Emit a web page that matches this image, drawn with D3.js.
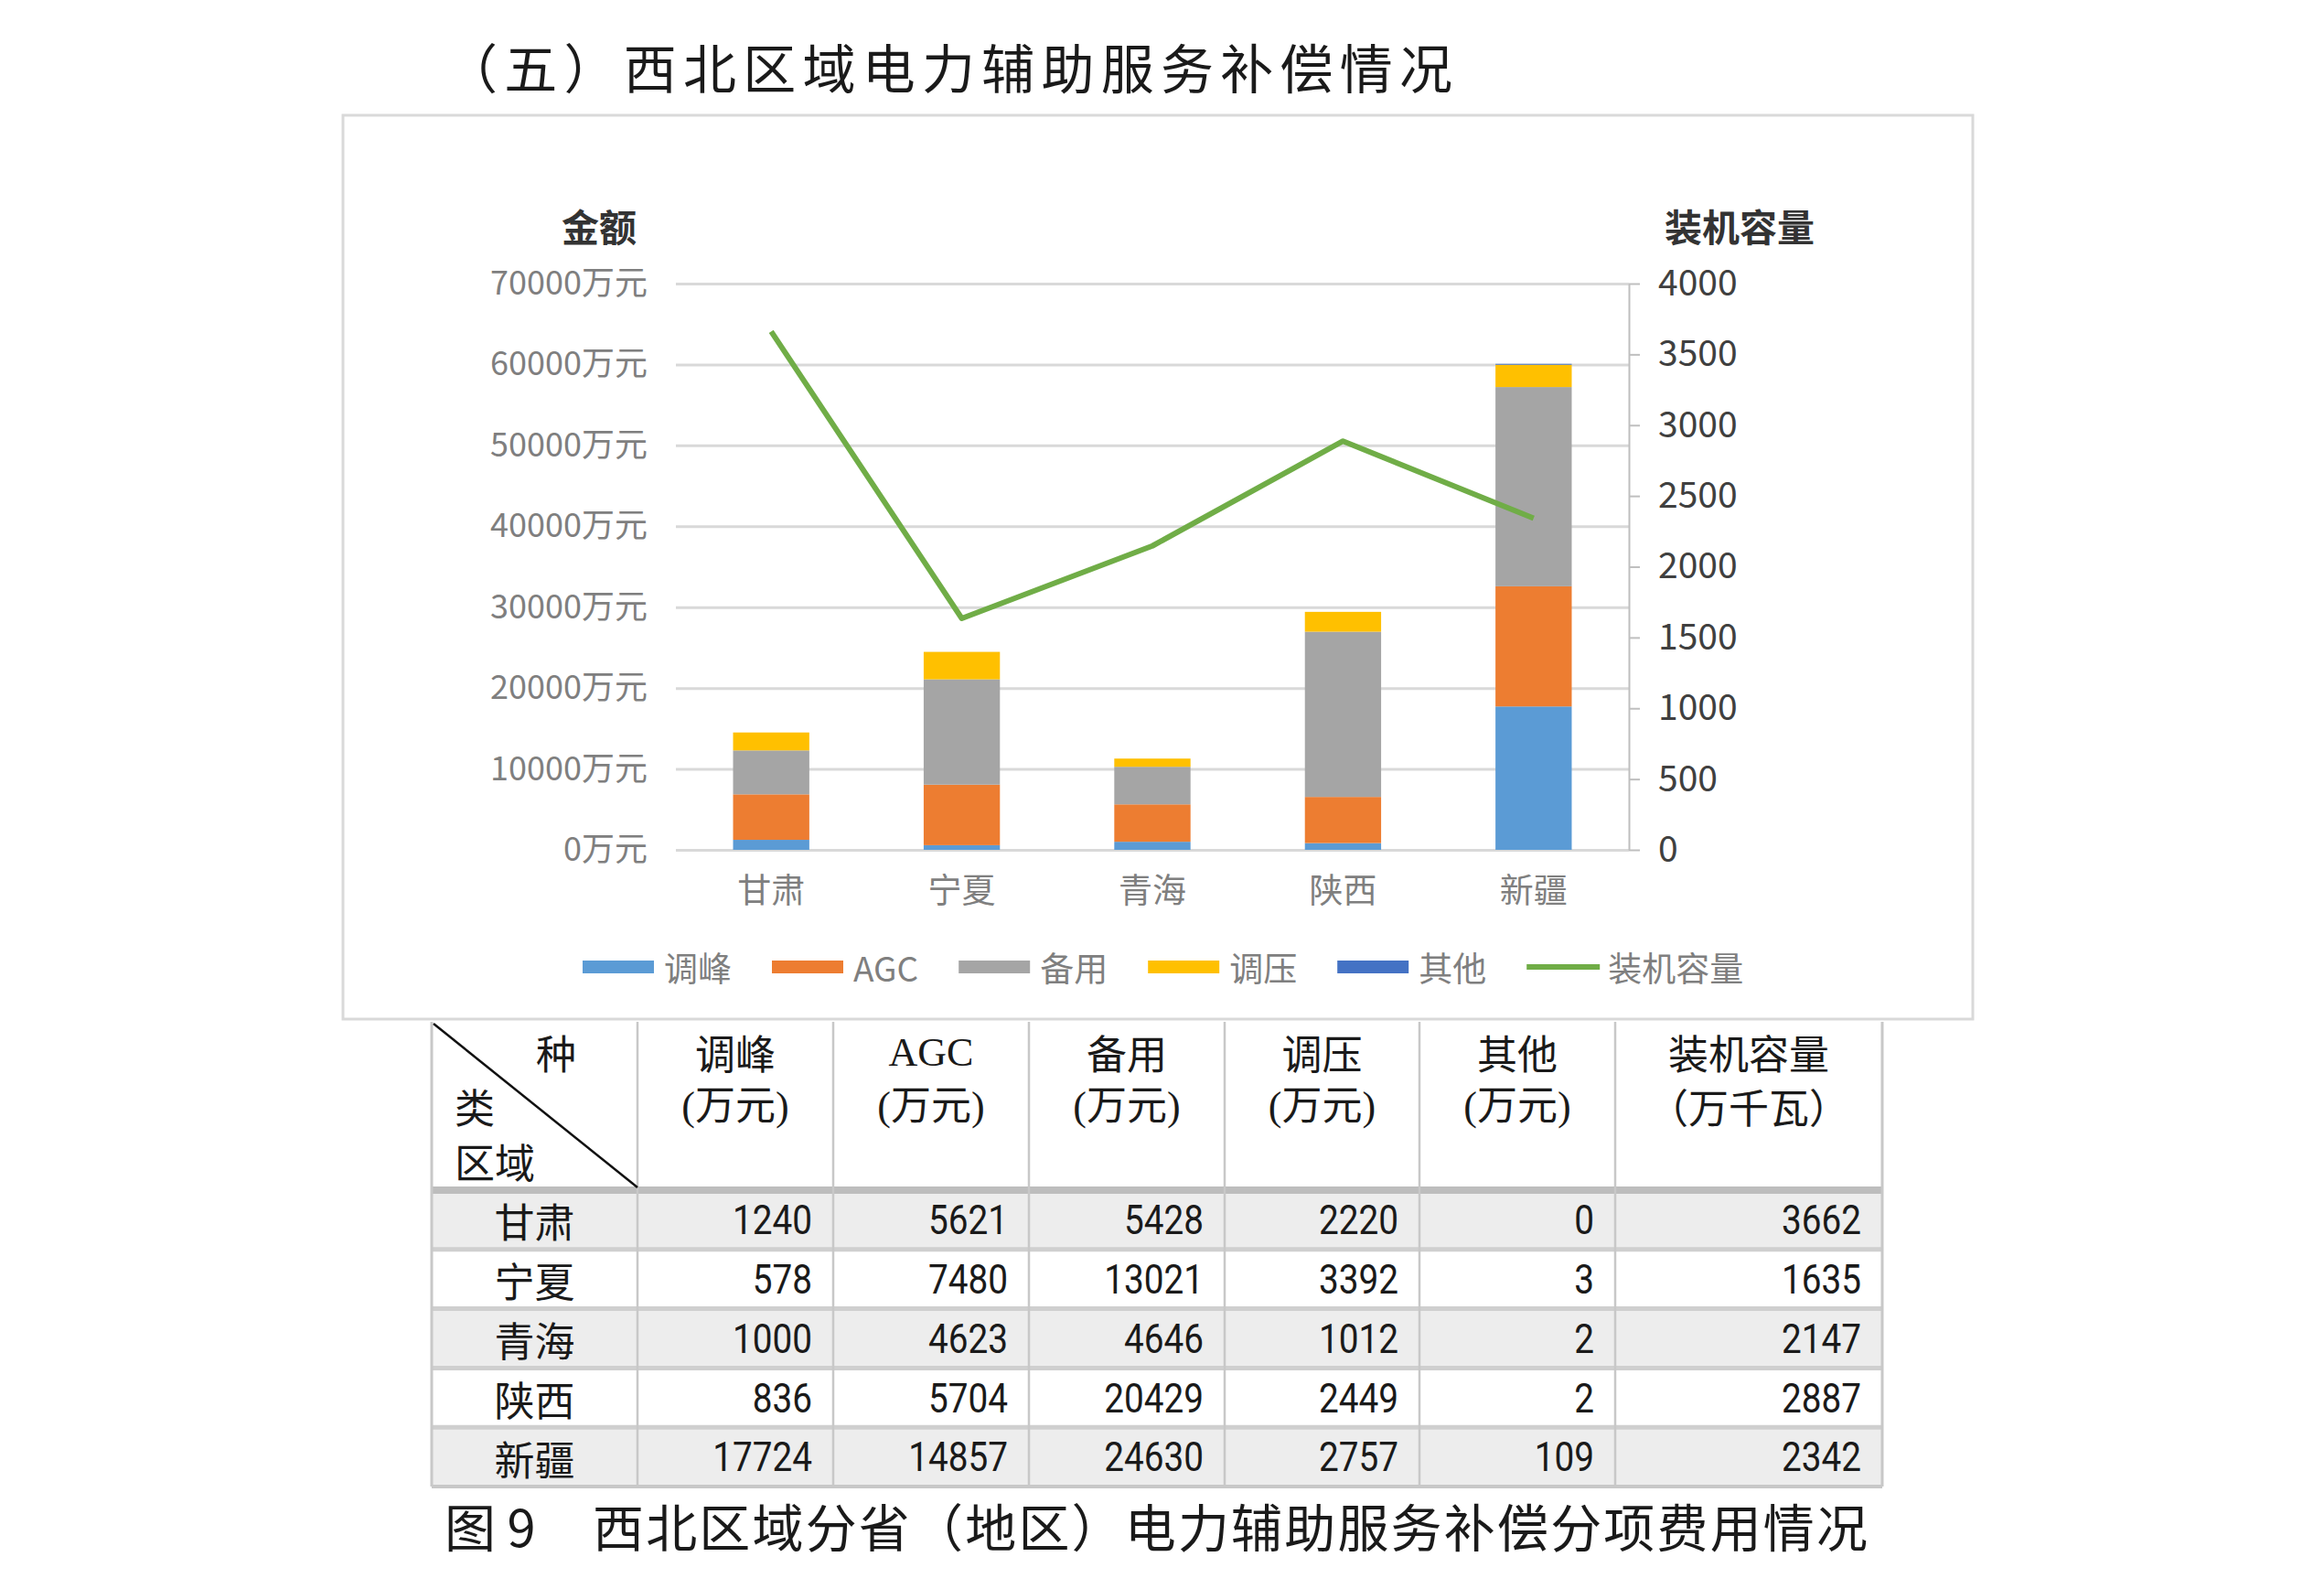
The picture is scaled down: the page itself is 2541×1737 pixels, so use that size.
<!DOCTYPE html>
<html><head><meta charset="utf-8">
<script src="https://cdn.jsdelivr.net/npm/d3@7/dist/d3.min.js"></script>
<style>html,body{margin:0;padding:0;background:#fff;}svg{display:block}</style>
</head><body>
<svg id="c" width="2541" height="1737"></svg>
<script>
// ---------------- data ----------------
const regions = ["甘肃", "宁夏", "青海", "陕西", "新疆"];
const seriesNames = ["调峰", "AGC", "备用", "调压", "其他"];
const tiaofeng = [1240, 578, 1000, 836, 17724];
const agc = [5621, 7480, 4623, 5704, 14857];
const beiyong = [5428, 13021, 4646, 20429, 24630];
const tiaoya = [2220, 3392, 1012, 2449, 2757];
const qita = [0, 3, 2, 2, 109];
const capacity = [3662, 1635, 2147, 2887, 2342];
const lineName = "装机容量";
const leftTicks = [0, 10000, 20000, 30000, 40000, 50000, 60000, 70000];
const rightTicks = [0, 500, 1000, 1500, 2000, 2500, 3000, 3500, 4000];
const leftUnit = "万元";
const tableHeaders = [["调峰", "(万元)"], ["AGC", "(万元)"], ["备用", "(万元)"], ["调压", "(万元)"], ["其他", "(万元)"], ["装机容量", "（万千瓦）"]];
const titleText = "（五）西北区域电力辅助服务补偿情况";
const captionHead = "图 9";
const captionText = "西北区域分省（地区）电力辅助服务补偿分项费用情况";

// ---------------- style ----------------
const colors = {"调峰": "#5B9BD5", "AGC": "#ED7D31", "备用": "#A5A5A5", "调压": "#FFC000", "其他": "#4472C4"};
const lineColor = "#70AD47";
const CJK = "'Noto Sans CJK SC','Noto Sans',sans-serif";

const svg = d3.select("#c");
const seriesArr = [tiaofeng, agc, beiyong, tiaoya, qita];
const rows = regions.map((r, i) => {
  const o = {region: r, cap: capacity[i]};
  seriesNames.forEach((s, k) => o[s] = seriesArr[k][i]);
  return o;
});

// title
svg.append("text").attr("x", 486).attr("y", 72).attr("dominant-baseline", "central")
  .attr("font-family", CJK).attr("font-size", 58).attr("fill", "#1a1a1a")
  .attr("textLength", 1102).attr("lengthAdjust", "spacing").text(titleText);

// chart box
svg.append("rect").attr("x", 375).attr("y", 126).attr("width", 1782).attr("height", 988)
  .attr("fill", "#fff").attr("stroke", "#d9d9d9").attr("stroke-width", 3);

const plot = {l: 739, r: 1781, t: 310, b: 929};
const x = d3.scaleBand().domain(regions).range([plot.l, plot.r]).paddingInner(0.6).paddingOuter(0.3);
const yL = d3.scaleLinear().domain([0, 70000]).range([plot.b, plot.t]);
const yR = d3.scaleLinear().domain([0, 4000]).range([plot.b, plot.t]);

// left axis + gridlines
const gL = svg.append("g").attr("transform", `translate(${plot.l},0)`)
  .call(d3.axisLeft(yL).tickValues(leftTicks).tickSize(-(plot.r - plot.l)).tickPadding(31).tickFormat(d => d + leftUnit));
gL.select(".domain").remove();
gL.selectAll(".tick line").attr("stroke", "#d9d9d9").attr("stroke-width", 3);
gL.selectAll(".tick text").attr("font-family", CJK).attr("font-size", 36).attr("fill", "#7f7f7f");

// bars
const stack = d3.stack().keys(seriesNames)(rows);
svg.append("g").selectAll("g").data(stack).join("g").attr("fill", d => colors[d.key])
  .selectAll("rect").data(d => d).join("rect")
  .attr("x", d => x(d.data.region)).attr("width", x.bandwidth())
  .attr("y", d => yL(d[1])).attr("height", d => Math.max(0, yL(d[0]) - yL(d[1])));

// right axis
const gR = svg.append("g").attr("transform", `translate(${plot.r},0)`)
  .call(d3.axisRight(yR).tickValues(rightTicks).tickSize(12).tickSizeOuter(0).tickPadding(20).tickFormat(d3.format("d")));
gR.select(".domain").attr("stroke", "#bfbfbf").attr("stroke-width", 2);
gR.selectAll(".tick line").attr("stroke", "#bfbfbf").attr("stroke-width", 2);
gR.selectAll(".tick text").attr("font-family", CJK).attr("font-size", 39).attr("fill", "#404040");

// category axis labels
const gB = svg.append("g").attr("transform", `translate(0,${plot.b})`)
  .call(d3.axisBottom(x).tickSize(0).tickPadding(0));
gB.select(".domain").remove();
gB.selectAll(".tick text").attr("y", 45).attr("dy", "0.35em")
  .attr("font-family", CJK).attr("font-size", 37).attr("fill", "#7f7f7f");

// line
const line = d3.line().x(d => x(d.region) + x.bandwidth() / 2).y(d => yR(d.cap));
svg.append("path").datum(rows).attr("d", line).attr("fill", "none")
  .attr("stroke", lineColor).attr("stroke-width", 6).attr("stroke-linejoin", "round");

// axis titles
svg.append("text").attr("x", 655).attr("y", 246).attr("text-anchor", "middle").attr("dominant-baseline", "central")
  .attr("font-family", CJK).attr("font-weight", "bold").attr("font-size", 41).attr("fill", "#333").text("金额");
svg.append("text").attr("x", 1902).attr("y", 246).attr("text-anchor", "middle").attr("dominant-baseline", "central")
  .attr("font-family", CJK).attr("font-weight", "bold").attr("font-size", 41).attr("fill", "#333").text(lineName);

// legend
const legendItems = seriesNames.map(s => ({name: s, type: "bar"})).concat([{name: lineName, type: "line"}]);
let lx = 637;
const ly = 1057;
const lg = svg.append("g");
legendItems.forEach(it => {
  if (it.type === "bar") {
    lg.append("rect").attr("x", lx).attr("y", ly - 7).attr("width", 78).attr("height", 14).attr("fill", colors[it.name]);
  } else {
    lg.append("line").attr("x1", lx).attr("x2", lx + 80).attr("y1", ly).attr("y2", ly)
      .attr("stroke", lineColor).attr("stroke-width", 6);
  }
  const t = lg.append("text").attr("x", lx + 89).attr("y", ly).attr("dominant-baseline", "central")
    .attr("font-family", CJK).attr("font-size", 37).attr("fill", "#7f7f7f").text(it.name);
  lx += 89 + t.node().getComputedTextLength() + 44;
});

// ---------------- table ----------------
const colX = [472, 697, 911, 1125, 1339, 1552, 1766, 2058];
const headTop = 1117, headBot = 1301, tabBot = 1625;
const rowH = (tabBot - headBot) / regions.length;
const tg = svg.append("g");
regions.forEach((r, i) => {
  tg.append("rect").attr("x", colX[0]).attr("y", headBot + i * rowH).attr("width", colX[7] - colX[0]).attr("height", rowH)
    .attr("fill", i % 2 === 0 ? "#ededed" : "#ffffff");
});
// row separators
for (let i = 1; i < regions.length; i++) {
  tg.append("line").attr("x1", colX[0]).attr("x2", colX[7]).attr("y1", headBot + i * rowH).attr("y2", headBot + i * rowH)
    .attr("stroke", "#cfcfcf").attr("stroke-width", 5);
}
// header bottom band
tg.append("line").attr("x1", colX[0]).attr("x2", colX[7]).attr("y1", headBot).attr("y2", headBot)
  .attr("stroke", "#bdbdbd").attr("stroke-width", 8);
// column lines
colX.forEach((cx, k) => {
  tg.append("line").attr("x1", cx).attr("x2", cx).attr("y1", headTop).attr("y2", tabBot)
    .attr("stroke", "#c8c8c8").attr("stroke-width", (k === 0 || k === 7) ? 3 : 2.5);
});
tg.append("line").attr("x1", colX[0]).attr("x2", colX[7]).attr("y1", tabBot).attr("y2", tabBot)
  .attr("stroke", "#c8c8c8").attr("stroke-width", 4);
// diagonal
tg.append("line").attr("x1", colX[0] + 2).attr("y1", headTop + 2).attr("x2", colX[1]).attr("y2", headBot - 3)
  .attr("stroke", "#111").attr("stroke-width", 2.5);
const hdr = (tx, ty, s, anchor, fam) => tg.append("text").attr("x", tx).attr("y", ty).attr("text-anchor", anchor || "middle")
  .attr("dominant-baseline", "central").attr("font-family", fam || CJK).attr("font-size", 44).attr("fill", "#1a1a1a").text(s);
hdr(608, 1150, "种");
hdr(519, 1209, "类");
hdr(541, 1269, "区域");
tableHeaders.forEach((h, k) => {
  const cx = (colX[k + 1] + colX[k + 2]) / 2;
  const isLatin = /^[A-Za-z]+$/.test(h[0]);
  hdr(cx, 1150, h[0], "middle", isLatin ? "'Liberation Serif',serif" : CJK);
  hdr(cx, 1209, h[1], "middle", h[1].startsWith("(") ? "'Liberation Serif','Noto Sans CJK SC',serif" : CJK);
});
const tableCols = seriesArr.concat([capacity]);
regions.forEach((r, i) => {
  const cy = headBot + (i + 0.5) * rowH + 1;
  hdr((colX[0] + colX[1]) / 2, cy, r);
  tableCols.forEach((arr, k) => {
    const rx = colX[k + 2] - 23;
    tg.append("text").attr("transform", `translate(${rx},${cy}) scale(0.88,1)`).attr("text-anchor", "end")
      .attr("dominant-baseline", "central").attr("font-family", "Roboto,'Noto Sans',sans-serif")
      .attr("font-size", 44).attr("fill", "#1a1a1a").text(arr[i]);
  });
});

// caption
svg.append("text").attr("x", 486).attr("y", 1666).attr("dominant-baseline", "central")
  .attr("font-family", CJK).attr("font-size", 56).attr("fill", "#1a1a1a").text(captionHead);
svg.append("text").attr("x", 648).attr("y", 1666).attr("dominant-baseline", "central")
  .attr("font-family", CJK).attr("font-size", 56).attr("fill", "#1a1a1a")
  .attr("textLength", 1394).attr("lengthAdjust", "spacing").text(captionText);
</script>
</body></html>
